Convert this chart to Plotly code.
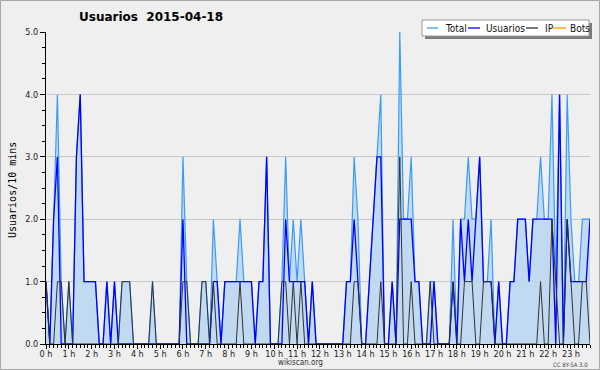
import plotly.graph_objects as go

# 10-minute slots of the day (0..143)
SLOTS = list(range(144))
HOUR_TICKS = [0, 6, 12, 18, 24, 30, 36, 42, 48, 54, 60, 66, 72, 78, 84, 90,
              96, 102, 108, 114, 120, 126, 132, 138]
HOUR_LABELS = ["0 h", "1 h", "2 h", "3 h", "4 h", "5 h", "6 h", "7 h", "8 h",
               "9 h", "10 h", "11 h", "12 h", "13 h", "14 h", "15 h", "16 h",
               "17 h", "18 h", "19 h", "20 h", "21 h", "22 h", "23 h"]

total = [
    1, 0, 2, 4, 1, 0, 1, 0, 3, 4, 1, 1, 1, 1, 0, 0, 1, 0, 1, 0, 1, 1, 1, 0,
    0, 0, 0, 0, 1, 0, 0, 0, 0, 0, 0, 0, 3, 1, 0, 0, 0, 1, 1, 0, 2, 1, 0, 1,
    1, 1, 1, 2, 1, 1, 1, 0, 1, 1, 3, 0, 0, 0, 1, 3, 1, 2, 1, 2, 1, 0, 1, 0,
    0, 0, 0, 0, 0, 0, 0, 1, 1, 3, 2, 0, 0, 1, 2, 3, 4, 0, 0, 1, 0, 5, 2, 2,
    3, 1, 1, 0, 0, 1, 1, 0, 0, 0, 0, 2, 0, 2, 2, 3, 2, 2, 3, 1, 1, 2, 0, 1,
    0, 0, 1, 1, 2, 2, 2, 1, 2, 2, 3, 2, 2, 4, 1, 4, 0, 4, 2, 1, 1, 2, 2, 2,
]
usuarios = [
    1, 0, 2, 3, 0, 0, 0, 0, 3, 4, 1, 1, 1, 1, 0, 0, 1, 0, 1, 0, 0, 0, 0, 0,
    0, 0, 0, 0, 0, 0, 0, 0, 0, 0, 0, 0, 2, 0, 0, 0, 0, 0, 0, 0, 1, 1, 0, 1,
    1, 1, 1, 1, 1, 1, 1, 0, 1, 1, 3, 0, 0, 0, 0, 2, 1, 1, 1, 1, 1, 0, 1, 0,
    0, 0, 0, 0, 0, 0, 0, 1, 1, 2, 1, 0, 0, 1, 2, 3, 3, 0, 0, 1, 0, 2, 2, 2,
    2, 1, 1, 0, 0, 0, 1, 0, 0, 0, 0, 1, 0, 2, 1, 2, 1, 2, 3, 1, 1, 1, 0, 1,
    0, 0, 1, 1, 2, 2, 2, 1, 2, 2, 2, 2, 2, 2, 0, 4, 0, 2, 1, 1, 1, 1, 1, 2,
]
ip = [
    1, 0, 0, 1, 1, 0, 1, 0, 0, 0, 0, 0, 0, 0, 0, 0, 0, 0, 0, 0, 1, 1, 1, 0,
    0, 0, 0, 0, 1, 0, 0, 0, 0, 0, 0, 0, 1, 1, 0, 0, 0, 1, 1, 0, 1, 0, 0, 0,
    0, 0, 0, 1, 0, 0, 0, 0, 0, 0, 0, 0, 0, 0, 1, 1, 0, 1, 0, 1, 0, 0, 0, 0,
    0, 0, 0, 0, 0, 0, 0, 0, 0, 1, 1, 0, 0, 0, 0, 0, 1, 0, 0, 0, 0, 3, 0, 0,
    1, 0, 0, 0, 0, 1, 0, 0, 0, 0, 0, 1, 0, 0, 1, 1, 1, 0, 0, 1, 1, 1, 0, 0,
    0, 0, 0, 0, 0, 0, 0, 0, 0, 0, 1, 0, 0, 2, 1, 0, 0, 2, 1, 0, 0, 1, 1, 0,
]
bots = [
    0, 0, 0, 0, 0, 0, 0, 0, 0, 0, 0, 0, 0, 0, 0, 0, 0, 0, 0, 0, 0, 0, 0, 0,
    0, 0, 0, 0, 0, 0, 0, 0, 0, 0, 0, 0, 0, 0, 0, 0, 0, 0, 0, 0, 0, 0, 0, 0,
    0, 0, 0, 0, 0, 0, 0, 0, 0, 0, 0, 0, 0, 0, 0, 0, 0, 0, 0, 0, 0, 0, 0, 0,
    0, 0, 0, 0, 0, 0, 0, 0, 0, 0, 0, 0, 0, 0, 0, 0, 0, 0, 0, 0, 0, 0, 0, 0,
    0, 0, 0, 0, 0, 0, 0, 0, 0, 0, 0, 0, 0, 0, 0, 0, 0, 0, 0, 0, 0, 0, 0, 0,
    0, 0, 0, 0, 0, 0, 0, 0, 0, 0, 0, 0, 0, 0, 0, 0, 0, 0, 0, 0, 0, 0, 0, 0,
]

SERIES_NAMES = ["Total", "Usuarios", "IP", "Bots"]
SERIES_COLORS = ["#3b9cf5", "#0000ff", "#333333", "#ff9900"]

BG = "#efefef"
FONT = "DejaVu Sans Condensed, Liberation Sans Narrow, DejaVu Sans"

W, H = 600, 370
ML, MR, MT, MB = 46, 10, 32, 26
PW, PH = W - ML - MR, H - MT - MB


def px(x):
    return (x - ML) / PW


def py(y):
    return (H - MB - y) / PH


fig = go.Figure()
fig.add_trace(go.Scatter(x=SLOTS, y=bots, mode="lines",
                         line=dict(color=SERIES_COLORS[3], width=1),
                         name="Bots", showlegend=False))
fig.add_trace(go.Scatter(x=SLOTS, y=total, mode="lines", fill="tozeroy",
                         fillcolor="rgba(190,216,240,0.95)",
                         line=dict(color=SERIES_COLORS[0], width=1.2),
                         name="Total", showlegend=False))
fig.add_trace(go.Scatter(x=SLOTS, y=usuarios, mode="lines",
                         line=dict(color=SERIES_COLORS[1], width=1.3),
                         name="Usuarios", showlegend=False))
fig.add_trace(go.Scatter(x=SLOTS, y=ip, mode="lines",
                         line=dict(color=SERIES_COLORS[2], width=1),
                         name="IP", showlegend=False))

shapes = []
annotations = []

# outer border
shapes.append(dict(type="rect", xref="paper", yref="paper",
                   x0=px(0.5), x1=px(599.5), y0=py(369.5), y1=py(0.5),
                   line=dict(color="#a8a8a8", width=1), fillcolor="rgba(0,0,0,0)",
                   layer="above"))

# legend box with shadow
lx0, lx1, ly0, ly1 = 422, 589, 20, 36
shapes.append(dict(type="rect", xref="paper", yref="paper",
                   x0=px(lx0 + 3), x1=px(lx1 + 3), y0=py(ly1 + 3), y1=py(ly0 + 3),
                   line=dict(width=0), fillcolor="#7a7a7a", layer="above"))
shapes.append(dict(type="rect", xref="paper", yref="paper",
                   x0=px(lx0), x1=px(lx1), y0=py(ly1), y1=py(ly0),
                   line=dict(color="#9a9a9a", width=1), fillcolor="#ffffff",
                   layer="above"))
leg_line_x = [(427, 438), (468, 480), (526, 538), (553, 566)]
leg_text_x = [443, 484, 543, 568]
ly = 28
for (a, b), tx, nm, col in zip(leg_line_x, leg_text_x, SERIES_NAMES, SERIES_COLORS):
    shapes.append(dict(type="line", xref="paper", yref="paper",
                       x0=px(a), x1=px(b), y0=py(ly), y1=py(ly),
                       line=dict(color=col, width=1.3), layer="above"))
    annotations.append(dict(xref="paper", yref="paper", x=px(tx), y=py(ly),
                            xanchor="left", yanchor="middle", showarrow=False,
                            text=nm, font=dict(family=FONT, size=10, color="#111")))

# title
annotations.append(dict(xref="paper", yref="paper", x=px(151), y=py(17),
                        xanchor="center", yanchor="middle", showarrow=False,
                        text="<b>Usuarios&nbsp;&nbsp;2015-04-18</b>",
                        font=dict(family="DejaVu Sans", size=12, color="#000")))
# y axis title
annotations.append(dict(xref="paper", yref="paper", x=px(12), y=py(190),
                        xanchor="center", yanchor="middle", showarrow=False,
                        textangle=-90, text="Usuarios/10 mins",
                        font=dict(family="DejaVu Sans Mono", size=10, color="#000")))
# footer
annotations.append(dict(xref="paper", yref="paper", x=px(300), y=py(362),
                        xanchor="center", yanchor="middle", showarrow=False,
                        text="wikiscan.org",
                        font=dict(family=FONT, size=8, color="#333")))
annotations.append(dict(xref="paper", yref="paper", x=px(590), y=py(364),
                        xanchor="right", yanchor="middle", showarrow=False,
                        text="CC BY-SA 3.0",
                        font=dict(family=FONT, size=6, color="#444")))

fig.update_layout(
    width=W, height=H,
    margin=dict(l=ML, r=MR, t=MT, b=MB, pad=0),
    paper_bgcolor=BG, plot_bgcolor=BG,
    showlegend=False,
    shapes=shapes, annotations=annotations,
    xaxis=dict(range=[0, 143], tickmode="array", tickvals=HOUR_TICKS,
               ticktext=HOUR_LABELS, ticks="outside", ticklen=4,
               tickcolor="#000", tickwidth=1, showgrid=False, zeroline=False,
               showline=True, linecolor="#000", linewidth=1,
               ticklabelstandoff=-3,
               tickfont=dict(family=FONT, size=9, color="#222"),
               minor=dict(tickmode="linear", tick0=0, dtick=1, ticks="outside",
                          ticklen=3, tickcolor="#000", showgrid=False),
               fixedrange=True),
    yaxis=dict(range=[0, 5], tickmode="linear", tick0=0, dtick=1,
               tickformat=".1f", ticks="outside", ticklen=5, tickcolor="#000",
               showgrid=True, gridcolor="#c9c9c9", gridwidth=1, zeroline=False,
               showline=True, linecolor="#000", linewidth=1,
               tickfont=dict(family=FONT, size=9, color="#222"),
               minor=dict(tickmode="linear", tick0=0, dtick=0.25, ticks="outside",
                          ticklen=3, tickcolor="#000", showgrid=False),
               fixedrange=True),
)

fig.write_html("out.html", config={"displayModeBar": False},
               post_script="document.body.style.margin='0';"
                           "document.body.style.overflow='hidden';")
